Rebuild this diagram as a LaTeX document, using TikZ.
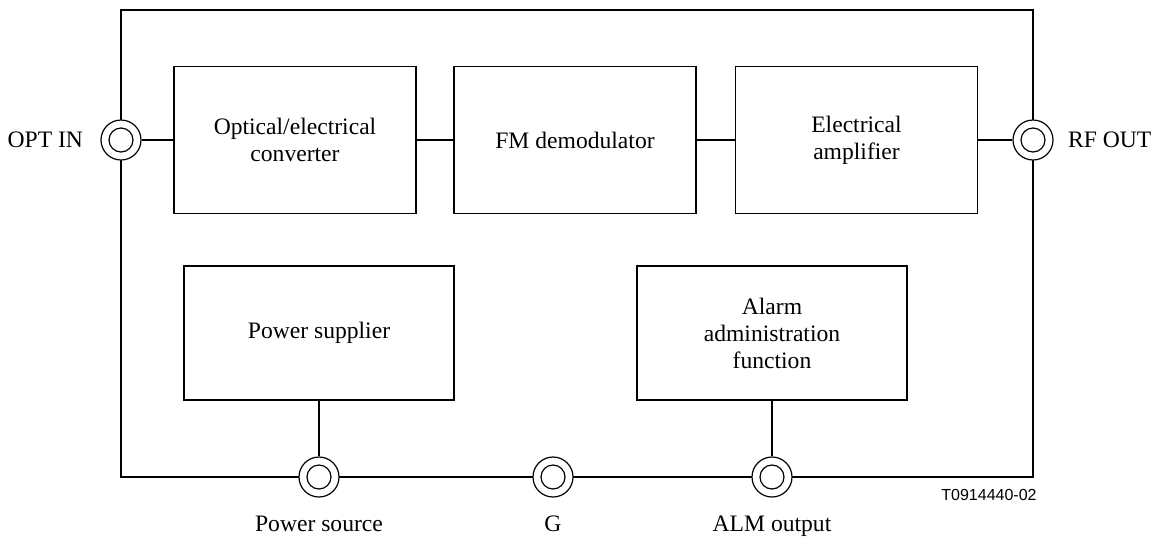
\documentclass[tikz,border=0pt]{standalone}
\usepackage{fontspec}
\setmainfont{Liberation Serif}
\newfontfamily\tagfont{Liberation Sans}
\usetikzlibrary{positioning}

\tikzset{
    unit/.style={draw,line width=0.6pt,align=center,minimum width=121pt,minimum height=73.5pt,inner sep=2pt},
    lowunit/.style={unit,minimum width=135pt,minimum height=67pt},
    jack/.style={circle,draw,line width=0.6pt,fill=white,minimum size=20pt,inner sep=0pt,
        path picture={\draw[line width=0.6pt] (path picture bounding box.center) circle [radius=6pt];}},
    wire/.style={line width=0.6pt}
}

\begin{document}
\begin{tikzpicture}[x=0.5pt,y=-0.5pt,font=\fontsize{11.8}{13.5}\selectfont]
    \useasboundingbox (0,0) rectangle (1157,537);

    % housing
    \draw[wire] (121,10) rectangle (1033,477);

    % top row
    \node[unit] (conv) at (295,140) {Optical/electrical\\converter};
    \node[unit] (fmdem) at (575,140) {FM demodulator};
    \node[unit] (amp) at (856.5,140) {Electrical\\amplifier};

    % bottom row
    \node[lowunit] (power) at (319,333) {Power supplier};
    \node[lowunit] (alarm) at (772,333) {Alarm\\administration\\function};

    % jacks
    \node[jack] (optin) at (121,140) {};
    \node[jack] (rfout) at (1033,140) {};
    \node[jack] (psrc) at (319,477) {};
    \node[jack] (gnd) at (553,477) {};
    \node[jack] (alm) at (772,477) {};

    \node[left=8.5pt of optin,inner sep=0pt] (optlbl) {OPT IN};
    \node[right=7pt of rfout,inner sep=0pt] (rflbl) {RF OUT};
    \node[below=9pt of psrc,inner sep=0pt] (psrclbl) {Power source};
    \node[below=9pt of gnd,inner sep=0pt] (gndlbl) {G};
    \node[below=9pt of alm,inner sep=0pt] (almlbl) {ALM output};
    \node[anchor=east,inner sep=0pt,font=\tagfont\fontsize{8}{9}\selectfont] (tag) at (1037,495) {T0914440-02};

    % signal path
    \draw[wire] (optin) -- (conv);
    \draw[wire] (conv) -- (fmdem);
    \draw[wire] (fmdem) -- (amp);
    \draw[wire] (amp) -- (rfout);
    \draw[wire] (power.south -| psrc) -- (psrc);
    \draw[wire] (alarm.south -| alm) -- (alm);
\end{tikzpicture}
\end{document}
